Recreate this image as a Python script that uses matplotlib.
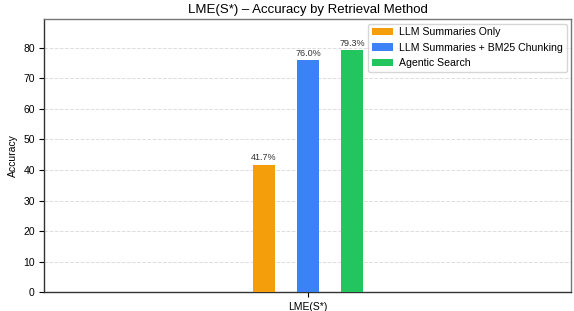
import matplotlib
matplotlib.use("Agg")
import matplotlib.pyplot as plt
import numpy as np

plt.rcParams['font.family'] = ['Liberation Sans', 'DejaVu Sans']

categories = ["LME(S*)"]
methods = ["LLM Summaries Only", "LLM Summaries + BM25 Chunking", "Agentic Search"]
values = [41.7, 76.0, 79.3]
colors = ["#f59e0b", "#3b82f6", "#22c55e"]

fig, ax = plt.subplots(figsize=(5.74, 3.11), dpi=100)
x = np.arange(len(categories))
spacing = 0.25
width = 0.125
for i, (m, v, c) in enumerate(zip(methods, values, colors)):
    pos = x + (i - 1) * spacing
    ax.bar(pos, [v], width=width, color=c, label=m, zorder=3)
    ax.text(pos[0], v + 0.8, f"{v:.1f}%", ha="center", va="bottom", fontsize=6.5, color="#333333")

ax.set_xlim(-1.5, 1.5)
ax.set_ylim(0, 89.5)
ax.set_xticks(x)
ax.set_xticklabels(categories, fontsize=7.5)
ax.set_yticks(np.arange(0, 81, 10))
ax.tick_params(axis='y', labelsize=7.5)
ax.set_ylabel("Accuracy", fontsize=7.5)
ax.set_title("LME(S*) \u2013 Accuracy by Retrieval Method", fontsize=9.5, pad=4)
ax.yaxis.grid(True, linestyle="--", color="#dddddd", linewidth=0.7, zorder=0)
ax.set_axisbelow(True)
for s in ["left", "bottom"]:
    ax.spines[s].set_color("#333333")
    ax.spines[s].set_linewidth(1.0)
for s in ["top", "right"]:
    ax.spines[s].set_color("#777777")
    ax.spines[s].set_linewidth(1.0)
ax.legend(loc="upper right", fontsize=7.6, frameon=True, handlelength=2.0,
          handletextpad=0.6, borderaxespad=0.45, borderpad=0.35)

fig.subplots_adjust(left=0.0775, right=0.9956, top=0.939, bottom=0.061)
fig.savefig("out.png", dpi=100)
